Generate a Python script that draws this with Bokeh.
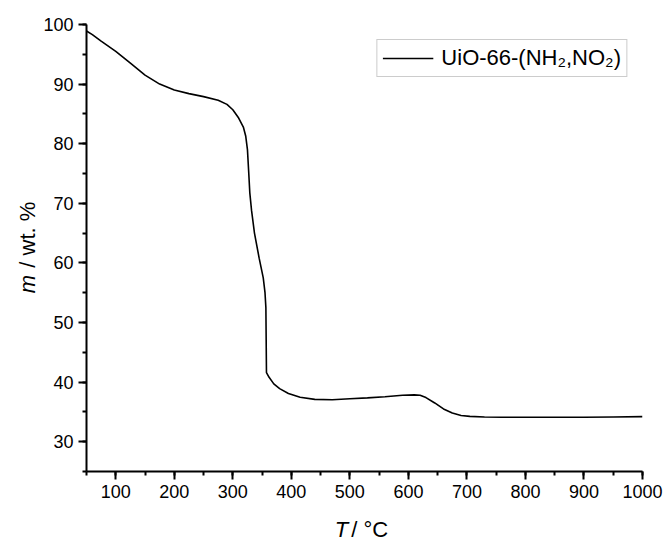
import math
from bokeh.plotting import figure
from bokeh.models import SingleIntervalTicker, Label, Range1d
from bokeh.embed import file_html
from bokeh.resources import INLINE

# TGA curve: temperature (°C) and remaining mass (wt. %)
temperature = [50, 60, 75, 100, 125, 150, 175, 200, 225, 250,
               275, 290, 300, 310, 318, 322, 325, 327, 329, 332,
               337, 345, 352, 355, 356.5, 357.5, 362, 370, 380, 395,
               415, 440, 470, 500, 530, 560, 590, 610, 620, 630,
               645, 660, 675, 690, 705, 730, 760, 800, 850, 900,
               950, 1000]
mass = [98.9, 98.3, 97.2, 95.5, 93.5, 91.5, 90.0, 89.0, 88.4, 87.9,
        87.3, 86.6, 85.7, 84.3, 82.8, 81.3, 79.0, 75.5, 71.8, 68.8,
        65.0, 60.8, 57.5, 55.0, 52.5, 41.6, 40.8, 39.7, 38.9, 38.1,
        37.45, 37.1, 37.05, 37.2, 37.35, 37.55, 37.8, 37.85, 37.8, 37.4,
        36.5, 35.5, 34.8, 34.4, 34.25, 34.15, 34.1, 34.1, 34.1, 34.1,
        34.15, 34.2]
series_label = "UiO-66-(NH\u2082,NO\u2082)"
x_ticks_interval = 100
y_ticks_interval = 10

FONT = "Liberation Sans"

p = figure(width=667, height=543,
           min_border_left=86, min_border_right=24,
           min_border_top=24, min_border_bottom=72,
           output_backend="svg", toolbar_location=None,
           x_range=Range1d(50, 1000), y_range=Range1d(25, 100))

p.line(temperature, mass, line_color="black", line_width=1.6,
       legend_label=series_label)

p.outline_line_color = None
p.xgrid.visible = False
p.ygrid.visible = False
p.background_fill_color = "white"
p.border_fill_color = "white"

for ax, interval in ((p.xaxis[0], x_ticks_interval), (p.yaxis[0], y_ticks_interval)):
    ax.ticker = SingleIntervalTicker(interval=interval, num_minor_ticks=2)
    ax.axis_line_width = 2
    ax.axis_line_color = "black"
    ax.major_tick_line_width = 2
    ax.minor_tick_line_width = 2
    ax.major_tick_line_color = "black"
    ax.minor_tick_line_color = "black"
    ax.major_tick_in = 0
    ax.major_tick_out = 8
    ax.minor_tick_in = 0
    ax.minor_tick_out = 4
    ax.major_label_text_font = FONT
    ax.major_label_text_font_size = "18px"
    ax.major_label_text_color = "black"
    ax.major_label_standoff = 5

# Axis titles with italic symbols; positioned in data units, hosted in side
# panels (so they are not clipped to the frame), spread over panels with room.
xa = Label(x=497.0, y=15.3, text="T", text_align="right", text_baseline="alphabetic",
           text_font=FONT, text_font_style="italic", text_font_size="22px", text_color="black")
xb = Label(x=502.4, y=15.3, text="/ \u00b0C", text_align="left", text_baseline="alphabetic",
           text_font=FONT, text_font_size="22px", text_color="black")
ya = Label(x=-50.5, y=58.0, text="m", text_align="right", text_baseline="alphabetic",
           angle=math.pi / 2, text_font=FONT, text_font_style="italic",
           text_font_size="22px", text_color="black")
yb = Label(x=-50.5, y=59.2, text="/ wt. %", text_align="left", text_baseline="alphabetic",
           angle=math.pi / 2, text_font=FONT, text_font_size="22px", text_color="black")
p.add_layout(xa, "left")
p.add_layout(ya, "left")
p.add_layout(xb, "below")
p.add_layout(yb, "right")

lg = p.legend[0]
lg.location = "top_right"
lg.margin = 15
lg.padding = 5
lg.spacing = 0
lg.glyph_width = 51
lg.label_standoff = 8
lg.border_line_color = "#9a9a9a"
lg.border_line_width = 1
lg.background_fill_color = "white"
lg.background_fill_alpha = 1
lg.label_text_font = FONT
lg.label_text_font_size = "22px"
lg.label_text_color = "black"

open("out.html", "w").write(file_html(p, INLINE))
